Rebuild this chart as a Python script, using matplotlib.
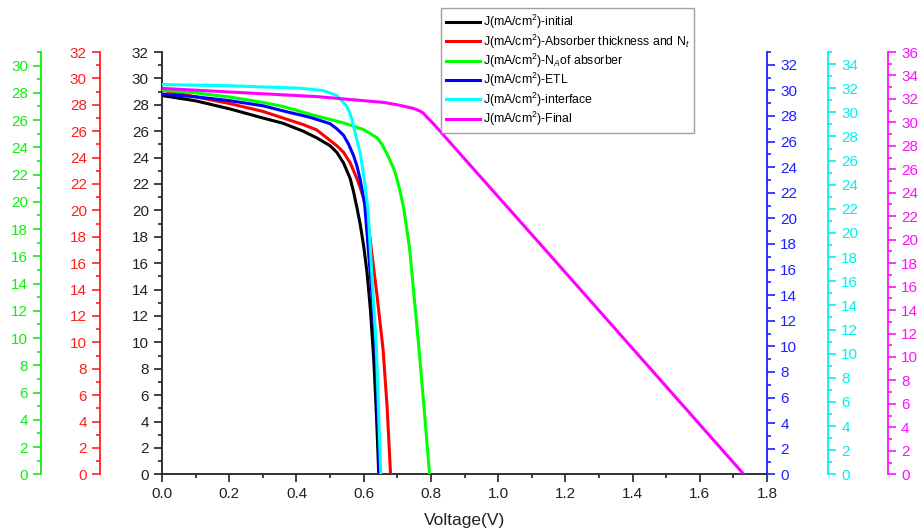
import numpy as np
import matplotlib
matplotlib.use('Agg')
import matplotlib.pyplot as plt
from matplotlib.ticker import MultipleLocator, FormatStrFormatter

plt.rcParams['font.family'] = ['Liberation Sans', 'DejaVu Sans']
plt.rcParams['mathtext.fontset'] = 'custom'
plt.rcParams['mathtext.rm'] = 'Liberation Sans'
plt.rcParams['mathtext.it'] = 'Liberation Sans:italic'

# J-V curves, each in the units of its own y axis
v_initial = [0, 0.1, 0.2, 0.3, 0.36, 0.42, 0.46, 0.5, 0.52, 0.54, 0.56, 0.57, 0.58, 0.59,
             0.6, 0.61, 0.62, 0.63, 0.638, 0.645]
j_initial = [28.7, 28.3, 27.7, 27.0, 26.6, 26.0, 25.5, 24.9, 24.4, 23.6, 22.4, 21.4, 20.2, 18.9,
             17.3, 15.3, 12.5, 8.7, 4.5, 0]

v_absorber = [0, 0.1, 0.2, 0.3, 0.36, 0.42, 0.46, 0.5, 0.52, 0.54, 0.56, 0.57, 0.58, 0.59,
              0.6, 0.61, 0.623, 0.64, 0.658, 0.67, 0.68]
j_absorber = [29.1, 28.6, 28.1, 27.5, 27.0, 26.5, 26.1, 25.3, 24.9, 24.4, 23.6, 23.0, 22.4, 21.7,
              20.9, 19.8, 17.0, 13.5, 9.4, 5.0, 0]

v_na = [0, 0.1, 0.2, 0.3, 0.36, 0.46, 0.54, 0.6, 0.62, 0.64, 0.655, 0.67, 0.69, 0.7, 0.71,
        0.72, 0.737, 0.765, 0.78, 0.796]
j_na = [28.2, 28.0, 27.7, 27.3, 27.0, 26.3, 25.8, 25.3, 25.0, 24.7, 24.2, 23.5, 22.4, 21.6, 20.6,
        19.4, 16.5, 9.1, 4.8, 0]

v_etl = [0, 0.1, 0.2, 0.3, 0.36, 0.44, 0.5, 0.52, 0.54, 0.555, 0.57, 0.58, 0.59, 0.603,
         0.614, 0.625, 0.636, 0.648]
j_etl = [29.7, 29.5, 29.2, 28.8, 28.4, 27.9, 27.4, 27.0, 26.5, 25.8, 24.9, 24.1, 23.0, 21.1,
         17.5, 13.9, 9.7, 0]

v_interface = [0, 0.2, 0.41, 0.48, 0.5, 0.52, 0.54, 0.55, 0.558, 0.565, 0.573, 0.58, 0.59,
               0.603, 0.613, 0.62, 0.638, 0.651]
j_interface = [32.3, 32.2, 32.0, 31.8, 31.6, 31.4, 30.8, 30.5, 30.0, 29.4, 28.5, 27.7, 26.6,
               24.2, 21.9, 18.6, 10.3, 0]

v_final = [0, 0.26, 0.46, 0.66, 0.7, 0.747, 0.765, 0.777, 0.79, 0.807, 1.154, 1.731]
j_final = [32.9, 32.5, 32.2, 31.7, 31.5, 31.2, 31.0, 30.8, 30.4, 29.9, 18.7, 0]

labels = ['J(mA/cm$^2$)-initial',
          'J(mA/cm$^2$)-Absorber thickness and N$_t$',
          'J(mA/cm$^2$)-N$_A$of absorber',
          'J(mA/cm$^2$)-ETL',
          'J(mA/cm$^2$)-interface',
          'J(mA/cm$^2$)-Final']

fig = plt.figure(figsize=(9.19, 5.31), dpi=100)
ax = fig.add_axes([162/919, 1 - 474.3/531, (767 - 162)/919, (474.3 - 52)/531])

def style_axis(a, color, side, offset, top):
    for s in ['top', 'right', 'left', 'bottom']:
        a.spines[s].set_visible(False)
    a.spines[side].set_visible(True)
    a.spines[side].set_color(color)
    a.spines[side].set_linewidth(1.3)
    a.spines[side].set_position(('outward', offset))
    a.yaxis.set_ticks_position(side)
    a.yaxis.set_label_position(side)
    a.set_ylim(0, top)
    a.yaxis.set_major_locator(MultipleLocator(2))
    a.yaxis.set_minor_locator(MultipleLocator(1))
    a.tick_params(axis='y', which='both', direction='out', colors=color, labelsize=11)
    a.tick_params(axis='y', which='major', length=6, width=1.2)
    a.tick_params(axis='y', which='minor', length=3, width=1.2)

ax_red = ax.twinx()
ax_green = ax.twinx()
ax_blue = ax.twinx()
ax_cyan = ax.twinx()
ax_mag = ax.twinx()

style_axis(ax, '#222222', 'left', 0, 32)
ax.spines['bottom'].set_visible(True)
ax.spines['bottom'].set_linewidth(1.3)
ax.spines['bottom'].set_color('#222222')
style_axis(ax_red, '#ff2020', 'left', 44.6, 32)
style_axis(ax_green, '#10ee10', 'left', 87, 31)
style_axis(ax_blue, '#2020ff', 'right', 0, 33)
style_axis(ax_cyan, '#00f0f0', 'right', 44, 35)
style_axis(ax_mag, '#ff10ff', 'right', 87, 36)

ax.set_xlim(0, 1.8)
ax.xaxis.set_major_locator(MultipleLocator(0.2))
ax.xaxis.set_minor_locator(MultipleLocator(0.1))
ax.tick_params(axis='x', which='both', direction='out', colors='#222222', labelsize=11)
ax.tick_params(axis='x', which='major', length=6, width=1.2)
ax.tick_params(axis='x', which='minor', length=3, width=1.2)
ax.xaxis.set_major_formatter(FormatStrFormatter('%.1f'))
ax.set_xlabel('Voltage(V)', fontsize=12.5, labelpad=8, color='#222222')

lw = 2.2
l1, = ax.plot(v_initial, j_initial, color='black', lw=lw)
l2, = ax_red.plot(v_absorber, j_absorber, color='#ff0000', lw=lw)
l3, = ax_green.plot(v_na, j_na, color='#00ff00', lw=lw)
l4, = ax_blue.plot(v_etl, j_etl, color='#0000ff', lw=lw)
l5, = ax_cyan.plot(v_interface, j_interface, color='#00ffff', lw=lw)
l6, = ax_mag.plot(v_final, j_final, color='#ff00ff', lw=lw)

leg = fig.legend([l1, l2, l3, l4, l5, l6], labels, loc='upper left',
                 bbox_to_anchor=(441/919, 1 - 8/531), fontsize=8.8,
                 frameon=True, fancybox=False, edgecolor='#888888',
                 handlelength=2.8, handletextpad=0.2, labelspacing=0.1,
                 borderpad=0.4, borderaxespad=0)
leg.get_frame().set_linewidth(1.0)

fig.savefig('out.png', dpi=100)
